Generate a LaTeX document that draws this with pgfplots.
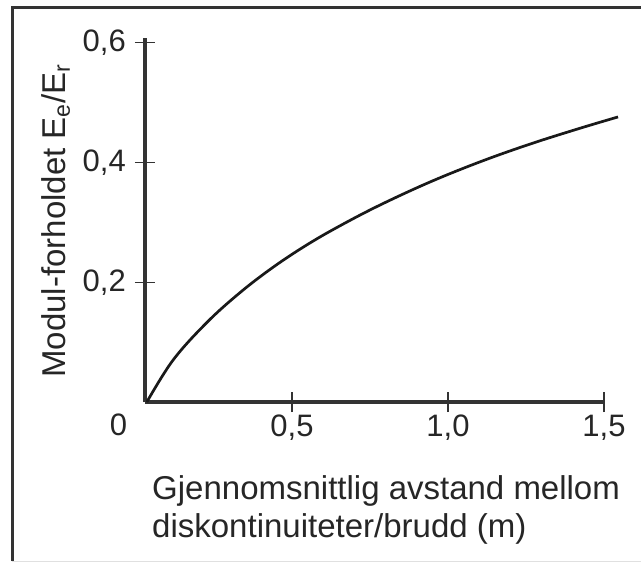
\documentclass[border=0pt]{standalone}
\usepackage{pgfplots}
\pgfplotsset{compat=1.18}
\usepackage{fontspec}
\setmainfont{Liberation Sans}
\begin{document}
\begin{tikzpicture}
\useasboundingbox (-145pt,-161pt) rectangle (496pt,402pt);
\fill[white] (-145pt,-161pt) rectangle (496pt,402pt);
\draw[line width=3pt, black!80] (-132.5pt,-159pt) -- (-132.5pt,394pt) -- (496pt,394pt);
\draw[line width=1pt, black!12] (-133pt,-159pt) -- (496pt,-159pt);
\begin{axis}[
  at={(0pt,0pt)}, anchor=south west,
  scale only axis, width=459pt, height=364pt,
  xmin=0.029, xmax=1.5, ymin=0, ymax=0.6077,
  axis lines=left,
  axis line style={-, line width=3.4pt, black!80},
  every outer x axis line/.append style={-, line width=3.4pt, black!80},
  every outer y axis line/.append style={-, line width=3.4pt, black!80},
  xtick={0.5,1,1.5}, xticklabels={{0,5},{1,0},{1,5}},
  ytick={0.2,0.4,0.6}, yticklabels={{0,2},{0,4},{0,6}},
  tick align=center, major tick length=20pt,
  tick style={line width=1.3pt, black!80},
  /pgf/number format/assume math mode=true,
  ticklabel style={font=\fontsize{31}{37}\selectfont, inner sep=0pt, text=black!85},
  xticklabel style={anchor=base, yshift=-24pt},
  yticklabel style={anchor=east, xshift=-9pt},
  xlabel={Gjennomsnittlig avstand mellom\\diskontinuiteter/brudd (m)},
  every axis x label/.style={at={(rel axis cs:0.0153,-0.201)}, anchor=north west, align=left, inner sep=0pt, font=\fontsize{33}{38}\selectfont, text=black!85},
  clip=false,
]
\addplot[line width=2.7pt, black!90, smooth, tension=0.6] coordinates {
(0.035,0) (0.119,0.070) (0.227,0.1326) (0.333,0.1824) (0.439,0.2248)
(0.548,0.2624) (0.654,0.2942) (0.782,0.3288) (0.942,0.3672) (1.103,0.401)
(1.263,0.4306) (1.423,0.457) (1.545,0.4759)};
\node[font=\fontsize{31}{37}\selectfont, anchor=base, inner sep=0pt, text=black!85] at ([xshift=-26.5pt,yshift=-33pt]rel axis cs:0,0) {0};
\end{axis}
\node[font=\fontsize{33}{38}\selectfont, rotate=90, anchor=base, inner sep=0pt, text=black!85] at (-79pt,181pt) {Modul-forholdet E\textsubscript{e}/E\textsubscript{r}};
\end{tikzpicture}
\end{document}
